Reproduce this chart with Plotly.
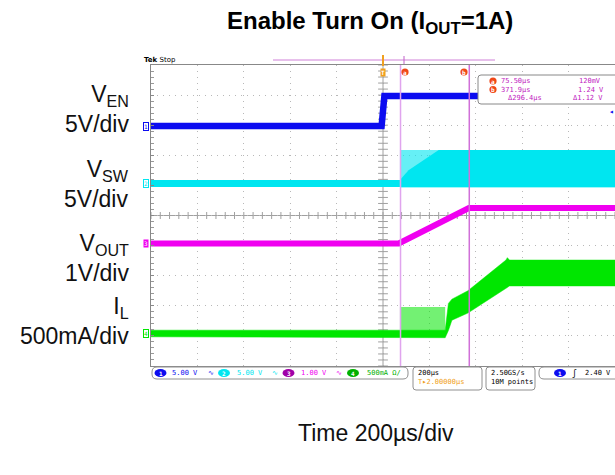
import plotly.graph_objects as go
import numpy as np

# ---------------- data (read from the scope shot) ----------------
# time in microseconds relative to trigger, 200 us/div
ven_t = [-1000, -6, 6, 1000]
ven_v = [0.0, 0.0, 5.0, 5.0]                       # V, 5 V/div

vsw_base_t = [-1000, 73]
vsw_base_v = [0.0, 0.0]
vsw_band_t = [73, 1000]
vsw_band_hi = [5.6, 5.6]
vsw_band_lo = [-0.6, -0.6]
vsw_dense_t = [73, 110, 240, 1000]
vsw_dense_hi = [0.6, 2.2, 5.6, 5.6]

vout_t = [-1000, 68, 370, 1000]
vout_v = [0.0, 0.0, 1.18, 1.18]                    # V, 1 V/div

il_hi_t = [-1000, 268, 282, 297, 366, 530, 536, 545, 1000]
il_hi = [0.055, 0.055, 0.50, 0.57, 0.71, 1.22, 1.26, 1.22, 1.22]
il_lo_t = [-1000, 268, 282, 297, 366, 534, 545, 1000]
il_lo = [-0.055, -0.07, 0.05, 0.22, 0.34, 0.76, 0.79, 0.79]
il_spk_t = [73, 268]
il_spk_hi = [0.44, 0.44]                           # A, 500 mA/div

cursor_t = [75.50, 371.9]
cursor_v = [0.120, 1.24]

# channel settings (scale per div, ground position in div)
ch = {
    "EN": dict(scale=5.0, pos=2.97, color="#0c0cf0"),
    "SW": dict(scale=5.0, pos=1.06, color="#00e6f0"),
    "OUT": dict(scale=1.0, pos=-0.93, color="#f000f0"),
    "IL": dict(scale=0.5, pos=-3.92, color="#00e600"),
}


def d(name, vals):
    c = ch[name]
    return [c["pos"] + v / c["scale"] for v in vals]


W, H = 615, 475
PL, PR, PT, PB = 151, 615, 65, 366   # graticule in page pixels


def X(p):
    return (p - PL) / (PR - PL)


def Y(p):
    return (PB - p) / (PB - PT)


fig = go.Figure()

# graticule center ticks
tx = np.arange(-1000, 1001, 40)
fig.add_trace(go.Scatter(x=tx, y=[0] * len(tx), mode="markers", hoverinfo="skip",
                         marker=dict(symbol="line-ns", size=5, line=dict(width=1, color="#a0a0a0"))))
ty = np.arange(-5, 5.01, 0.2)
fig.add_trace(go.Scatter(x=[0] * len(ty), y=ty, mode="markers", hoverinfo="skip",
                         marker=dict(symbol="line-ew", size=7, line=dict(width=1, color="#a0a0a0"))))

# VEN
fig.add_trace(go.Scatter(x=ven_t, y=d("EN", ven_v), mode="lines",
                         line=dict(color=ch["EN"]["color"], width=6.5)))
# VSW
fig.add_trace(go.Scatter(x=vsw_base_t, y=d("SW", vsw_base_v), mode="lines",
                         line=dict(color=ch["SW"]["color"], width=7)))
fig.add_trace(go.Scatter(x=vsw_band_t + vsw_band_t[::-1],
                         y=d("SW", vsw_band_hi) + d("SW", vsw_band_lo)[::-1],
                         fill="toself", mode="lines", opacity=0.6,
                         fillcolor=ch["SW"]["color"], line=dict(width=0)))
fig.add_trace(go.Scatter(x=vsw_dense_t + [vsw_dense_t[-1], vsw_dense_t[0]],
                         y=d("SW", vsw_dense_hi) + d("SW", [vsw_band_lo[1], vsw_band_lo[0]]),
                         fill="toself", mode="lines",
                         fillcolor=ch["SW"]["color"], line=dict(width=0)))
# VOUT
fig.add_trace(go.Scatter(x=vout_t, y=d("OUT", vout_v), mode="lines",
                         line=dict(color=ch["OUT"]["color"], width=6)))
# IL
fig.add_trace(go.Scatter(x=il_spk_t + il_spk_t[::-1],
                         y=d("IL", il_spk_hi) + d("IL", [0, 0]),
                         fill="toself", mode="lines", opacity=0.55,
                         fillcolor=ch["IL"]["color"], line=dict(width=0)))
fig.add_trace(go.Scatter(x=il_hi_t + il_lo_t[::-1],
                         y=d("IL", il_hi) + d("IL", il_lo)[::-1],
                         fill="toself", mode="lines",
                         fillcolor=ch["IL"]["color"], line=dict(width=0.5, color=ch["IL"]["color"])))

shapes = []
ann = []

# center cross lines
shapes.append(dict(type="line", xref="x", yref="y", x0=0, x1=0, y0=-5, y1=5,
                   line=dict(color="#a0a0a0", width=1), layer="below"))
shapes.append(dict(type="line", xref="x", yref="y", x0=-1000, x1=1000, y0=0, y1=0,
                   line=dict(color="#a0a0a0", width=1), layer="below"))

# cursors
for tc, col in zip(cursor_t, ["#e0a4ee", "#d070d8"]):
    shapes.append(dict(type="line", xref="x", yref="y", x0=tc, x1=tc, y0=-5, y1=5,
                       line=dict(color=col, width=1.5), layer="above"))


def rrect(x0, y0, x1, y1, r, line="#888888", fill="white", width=1):
    p = (f"M {X(x0+r)},{Y(y0)} L {X(x1-r)},{Y(y0)} Q {X(x1)},{Y(y0)} {X(x1)},{Y(y0+r)} "
         f"L {X(x1)},{Y(y1-r)} Q {X(x1)},{Y(y1)} {X(x1-r)},{Y(y1)} L {X(x0+r)},{Y(y1)} "
         f"Q {X(x0)},{Y(y1)} {X(x0)},{Y(y1-r)} L {X(x0)},{Y(y0+r)} Q {X(x0)},{Y(y0)} {X(x0+r)},{Y(y0)} Z")
    return dict(type="path", xref="paper", yref="paper", path=p, fillcolor=fill,
                line=dict(color=line, width=width), layer="above")


def txt(x, y, s, size=7, color="black", anchor="center", fam="DejaVu Sans Mono", **kw):
    a = dict(x=X(x), y=Y(y), xref="paper", yref="paper", text=s, showarrow=False,
             xanchor=anchor, yanchor="middle", font=dict(size=size, color=color, family=fam))
    a.update(kw)
    return a


# readout box
shapes.append(rrect(478, 75, 622, 104, 3))
mag = "#c020c0"
ann.append(txt(516, 81, f"{cursor_t[0]:.2f}µs", color=mag))
ann.append(txt(516, 89.5, f"{cursor_t[1]:.1f}µs", color=mag))
ann.append(txt(525, 98, f"Δ{cursor_t[1]-cursor_t[0]:.1f}µs", color=mag))
ann.append(txt(590, 81, f"{cursor_v[0]*1000:.0f}mV", color=mag))
ann.append(txt(591, 89.5, f"{cursor_v[1]:.2f} V", color=mag))
ann.append(txt(588, 98, f"Δ{cursor_v[1]-cursor_v[0]:.2f} V", color=mag))
red = "#f04818"
for (cx, cy, lab) in [(493, 81, "a"), (493, 89.5, "b"), (405, 72, "a"), (464, 72, "b")]:
    shapes.append(dict(type="circle", xref="paper", yref="paper", x0=X(cx-3.6), x1=X(cx+3.6),
                       y0=Y(cy+3.6), y1=Y(cy-3.6), fillcolor=red, line=dict(width=0), layer="above"))
    ann.append(txt(cx, cy, f"<b>{lab}</b>", size=6, color="white"))

# top record bar
shapes.append(dict(type="line", xref="paper", yref="paper", x0=X(273), x1=X(495), y0=Y(60), y1=Y(60),
                   line=dict(color="#d080d8", width=1)))
shapes.append(dict(type="line", xref="paper", yref="paper", x0=X(404), x1=X(404), y0=Y(56), y1=Y(64),
                   line=dict(color="#c060c8", width=1)))
orange = "#f0a020"
shapes.append(dict(type="line", xref="paper", yref="paper", x0=X(383), x1=X(383), y0=Y(55), y1=Y(66),
                   line=dict(color=orange, width=2)))
ann.append(txt(383, 72, "<b>T</b>", size=6, color="white", bgcolor=orange, borderpad=0))
ann.append(txt(611, 111, "◂", size=8, color=ch["EN"]["color"]))

# Tek Stop
ann.append(txt(142, 60, "<b>Tek</b> Stop", size=7, anchor="left", fam="DejaVu Sans"))

# channel markers on left
for (name, num) in [("EN", "1"), ("SW", "2"), ("OUT", "3"), ("IL", "4")]:
    c = ch[name]
    ypx = PB - (c["pos"] + 5) / 10 * (PB - PT)
    if name == "OUT":
        ann.append(txt(145.5, ypx, num, size=6, color="white", bgcolor=c["color"], borderpad=0))
    else:
        ann.append(txt(145.5, ypx, num, size=6, color=c["color"], bordercolor=c["color"],
                       borderwidth=1, borderpad=0))

# status bar
shapes.append(rrect(152, 367, 408, 379, 5, line="#909090"))
shapes.append(rrect(413, 367, 482, 390, 3, line="#909090"))
shapes.append(rrect(486, 367, 535, 390, 3, line="#909090"))
shapes.append(rrect(539, 367, 622, 379, 5, line="#909090"))
status = [("EN", "1", 160.5, 185, "5.00 V", 211), ("SW", "2", 224, 250, "5.00 V", 275),
          ("OUT", "3", 288.5, 313.5, "1.00 V", 339), ("IL", "4", 353, 384, "500mA Ω∕", None)]
for name, num, ox, tx_, lab, icx in status:
    col = ch[name]["color"]
    if name == "IL":
        col = "#00b000"
    if name == "OUT":
        col = "#a000a8"
    shapes.append(dict(type="circle", xref="paper", yref="paper", x0=X(ox-6), x1=X(ox+6),
                       y0=Y(377), y1=Y(369), fillcolor=col, line=dict(width=0), layer="above"))
    ann.append(txt(ox, 373, f"<b>{num}</b>", size=6, color="white"))
    ann.append(txt(tx_, 373, lab, color=ch[name]["color"] if name != "IL" else "#00b000"))
    if icx:
        ann.append(txt(icx, 373, "∿", size=7, color=ch[name]["color"]))
ann.append(txt(416, 373, "200µs", anchor="left"))
ann.append(txt(416, 382, "T▸2.00000µs", anchor="left", color=orange))
ann.append(txt(489, 373, "2.50GS/s", anchor="left"))
ann.append(txt(489, 382, "10M points", anchor="left"))
shapes.append(dict(type="circle", xref="paper", yref="paper", x0=X(554), x1=X(566),
                   y0=Y(377), y1=Y(369), fillcolor=ch["EN"]["color"], line=dict(width=0), layer="above"))
ann.append(txt(560, 373, "<b>1</b>", size=6, color="white"))
ann.append(txt(574, 373, "ʃ", size=8))
ann.append(txt(598, 373, "2.40 V"))

# chart text
F = "Liberation Sans, Arial, sans-serif"
ann.append(dict(x=X(370), y=Y(23), xref="paper", yref="paper", showarrow=False,
                text="<b>Enable Turn On (I<sub>OUT</sub>=1A)</b>", xanchor="center", yanchor="middle",
                font=dict(size=24, family=F, color="black")))
labels = [("V<sub>EN</sub><br>5V/div", 109), ("V<sub>SW</sub><br>5V/div", 184),
          ("V<sub>OUT</sub><br>1V/div", 258), ("I<sub>L</sub><br>500mA/div", 321)]
for s, yy in labels:
    ann.append(dict(x=X(131), y=Y(yy), xref="paper", yref="paper", showarrow=False, text=s,
                    align="right", xanchor="right", yanchor="middle",
                    font=dict(size=23, family=F, color="#111")))
ann.append(dict(x=X(376), y=Y(433), xref="paper", yref="paper", showarrow=False,
                text="Time 200µs/div", xanchor="center", yanchor="middle",
                font=dict(size=23, family=F, color="#111")))

fig.update_layout(
    width=W, height=H,
    margin=dict(l=PL, r=W - PR, t=PT, b=H - PB),
    paper_bgcolor="white", plot_bgcolor="white", showlegend=False,
    shapes=shapes, annotations=ann,
    xaxis=dict(range=[-1000, 1000], dtick=200, tick0=0, showgrid=True, gridcolor="#b8b8b8",
               griddash="1px,5px", showline=True, linecolor="#888888", mirror=True,
               showticklabels=False, zeroline=False, ticks=""),
    yaxis=dict(range=[-5, 5], dtick=1, tick0=0, showgrid=True, gridcolor="#b8b8b8",
               griddash="1px,5px", showline=True, linecolor="#888888", mirror=True,
               showticklabels=False, zeroline=False, ticks="inside", ticklen=3, tickcolor="#888888",
               minor=dict(dtick=0.2, ticks="inside", ticklen=3, tickcolor="#999999", showgrid=False)),
)

fig.write_html("out.html", config={"displayModeBar": False},
               post_script="document.body.style.margin='0px';document.body.style.overflow='hidden';")
